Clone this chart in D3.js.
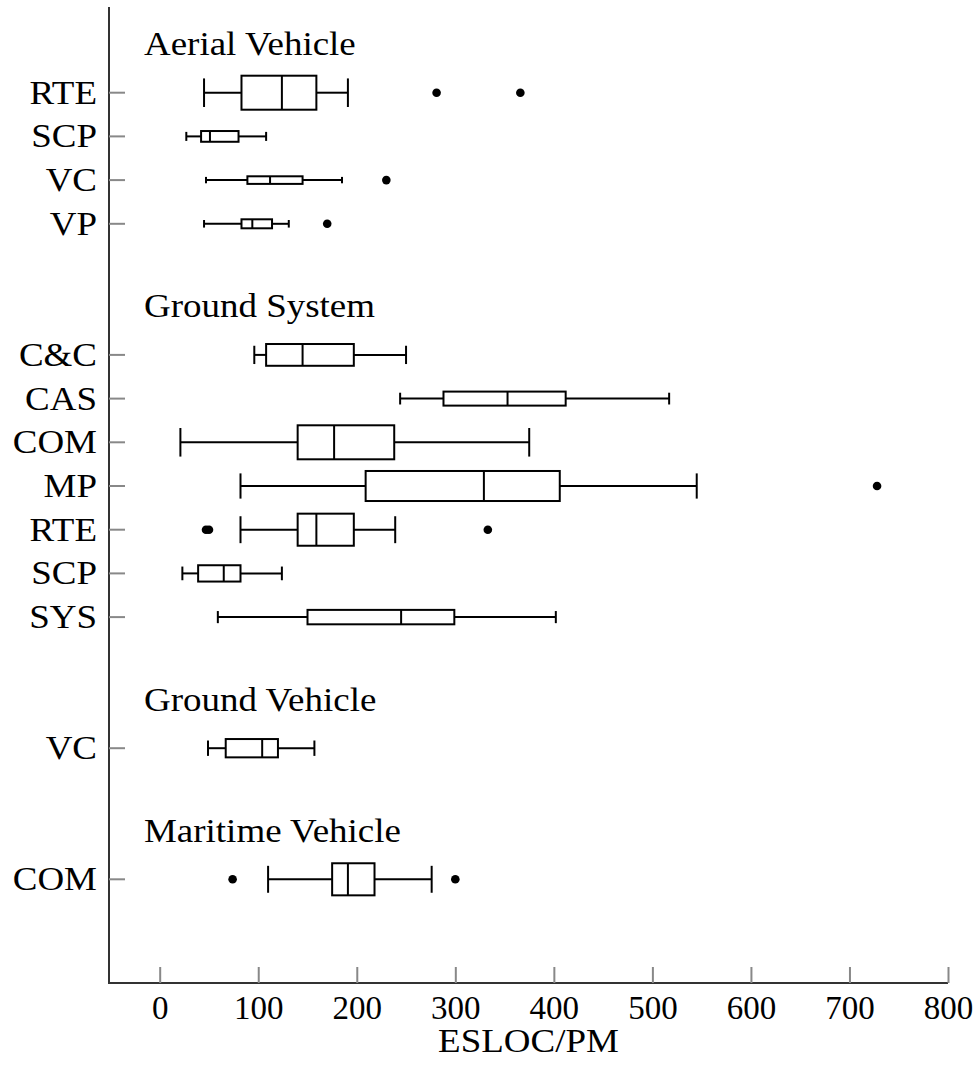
<!DOCTYPE html>
<html>
<head>
<meta charset="utf-8">
<script src="https://cdn.jsdelivr.net/npm/d3@7"></script>
<style>
  html, body { margin: 0; padding: 0; background: #fff; }
  svg { display: block; }
  text { font-family: "Liberation Serif", "Times New Roman", serif; fill: #000; }
</style>
</head>
<body>
<svg id="chart" width="977" height="1081"></svg>
<script>
// Application domains and the productivity groups measured in each
const domains = ["Aerial Vehicle", "Ground System", "Ground Vehicle", "Maritime Vehicle"];
const groupLabels = [
  ["RTE", "SCP", "VC", "VP"],
  ["C&C", "CAS", "COM", "MP", "RTE", "SCP", "SYS"],
  ["VC"],
  ["COM"]
];

// Five-number summaries (ESLOC/PM) per group, in the order above
const whiskerLow  = [45, 27, 47, 45,   96, 244, 21, 82, 82, 23, 59,   49,  110];
const quartile1   = [83, 42, 89, 83,  108, 288, 140, 209, 140, 39, 150, 67, 175];
const medians     = [124, 51, 112, 94, 145, 353, 177, 329, 159, 65, 245, 104, 191];
const quartile3   = [159, 80, 145, 114, 197, 412, 238, 406, 197, 82, 299, 120, 218];
const whiskerHigh = [191, 108, 185, 131, 250, 517, 375, 545, 239, 124, 402, 157, 276];
// Observations outside the whiskers
const outliers = [[281, 366], [], [230], [170],
                  [], [], [], [728], [47, 50, 333], [], [],
                  [], [74, 300]];
// Number of projects in each group (sets the box thickness)
const sampleSizes = [100, 10, 5, 7, 41, 17, 100, 78, 89, 23, 18, 29, 89];

// x-axis ticks
const xTicks = [0, 100, 200, 300, 400, 500, 600, 700, 800];
const xTitle = "ESLOC/PM";

// Lay out the rows: one heading slot per domain, then its groups, then a gap
const rows = [];
const headings = [];
let slot = 0, k = 0;
domains.forEach((dom, di) => {
  headings.push({ name: dom, slot: slot });
  slot++;
  groupLabels[di].forEach(label => {
    rows.push({
      label, slot,
      lo: whiskerLow[k], q1: quartile1[k], med: medians[k], q3: quartile3[k], hi: whiskerHigh[k],
      out: outliers[k], n: sampleSizes[k]
    });
    slot++; k++;
  });
  slot++;
});

const svg = d3.select("#chart");
const plotLeft = 109, plotRight = 948, plotTop = 7, plotBottom = 983;
const fontSize = 33;
const widen = 1.12;   // letterforms are set a little wide

const x = d3.scaleLinear().domain([0, 800]).range([159.7, 948]);
const y = d3.scaleLinear().domain([1, 19]).range([92.7, 879.3]);
const thick = d3.scaleSqrt().domain([0, d3.max(sampleSizes)]).range([0, 34]);

function stretch(sel) {
  sel.each(function () {
    const w = this.getComputedTextLength();
    d3.select(this).attr("textLength", w * widen).attr("lengthAdjust", "spacingAndGlyphs");
  });
}

// Axes: left spine and bottom spine
svg.append("line").attr("x1", plotLeft).attr("x2", plotLeft).attr("y1", plotTop).attr("y2", plotBottom)
  .attr("stroke", "#333").attr("stroke-width", 2);
svg.append("line").attr("x1", plotLeft - 1).attr("x2", plotRight).attr("y1", plotBottom).attr("y2", plotBottom)
  .attr("stroke", "#333").attr("stroke-width", 2);

// Bottom ticks and labels
const xAxis = d3.axisBottom(x).tickValues(xTicks).tickSize(0).tickPadding(0);
const gx = svg.append("g").attr("transform", `translate(0,${plotBottom})`).call(xAxis);
gx.select(".domain").remove();
gx.selectAll(".tick line").remove();
gx.selectAll(".tick text").attr("font-size", fontSize).attr("dy", null).attr("y", 36)
  .style("font-family", "'Liberation Serif', serif").attr("fill", "#000");
gx.selectAll(".tick").append("line").attr("y1", 0).attr("y2", -16)
  .attr("stroke", "#888").attr("stroke-width", 2);

svg.append("text").attr("x", (plotLeft + plotRight) / 2).attr("y", 1052)
  .attr("text-anchor", "middle").attr("font-size", fontSize).text(xTitle).call(stretch);

// Row ticks and labels
const rowG = svg.append("g").selectAll("g").data(rows).join("g")
  .attr("transform", d => `translate(0,${y(d.slot)})`);
rowG.append("line").attr("x1", plotLeft).attr("x2", plotLeft + 16)
  .attr("stroke", "#888").attr("stroke-width", 2);
rowG.append("text").attr("x", 97).attr("y", 11).attr("text-anchor", "end")
  .attr("font-size", fontSize).text(d => d.label).call(stretch);

// Domain headings
svg.append("g").selectAll("text").data(headings).join("text")
  .attr("x", 144).attr("y", d => y(d.slot) + 6)
  .attr("font-size", fontSize).text(d => d.name).call(stretch);

// Box plots
const boxes = svg.append("g").selectAll("g").data(rows).join("g")
  .attr("transform", d => `translate(0,${y(d.slot)})`);
boxes.append("line").attr("x1", d => x(d.lo)).attr("x2", d => x(d.q1))
  .attr("stroke", "#000").attr("stroke-width", 2);
boxes.append("line").attr("x1", d => x(d.q3)).attr("x2", d => x(d.hi))
  .attr("stroke", "#000").attr("stroke-width", 2);
boxes.append("line").attr("x1", d => x(d.lo)).attr("x2", d => x(d.lo))
  .attr("y1", d => -thick(d.n) * 0.42).attr("y2", d => thick(d.n) * 0.42)
  .attr("stroke", "#000").attr("stroke-width", 2);
boxes.append("line").attr("x1", d => x(d.hi)).attr("x2", d => x(d.hi))
  .attr("y1", d => -thick(d.n) * 0.42).attr("y2", d => thick(d.n) * 0.42)
  .attr("stroke", "#000").attr("stroke-width", 2);
boxes.append("rect").attr("x", d => x(d.q1)).attr("width", d => x(d.q3) - x(d.q1))
  .attr("y", d => -thick(d.n) / 2).attr("height", d => thick(d.n))
  .attr("fill", "#fff").attr("stroke", "#000").attr("stroke-width", 2);
boxes.append("line").attr("x1", d => x(d.med)).attr("x2", d => x(d.med))
  .attr("y1", d => -thick(d.n) / 2).attr("y2", d => thick(d.n) / 2)
  .attr("stroke", "#000").attr("stroke-width", 2);
boxes.selectAll("circle").data(d => d.out).join("circle")
  .attr("cx", v => x(v)).attr("cy", 0).attr("r", 4.3).attr("fill", "#000");
</script>
</body>
</html>
